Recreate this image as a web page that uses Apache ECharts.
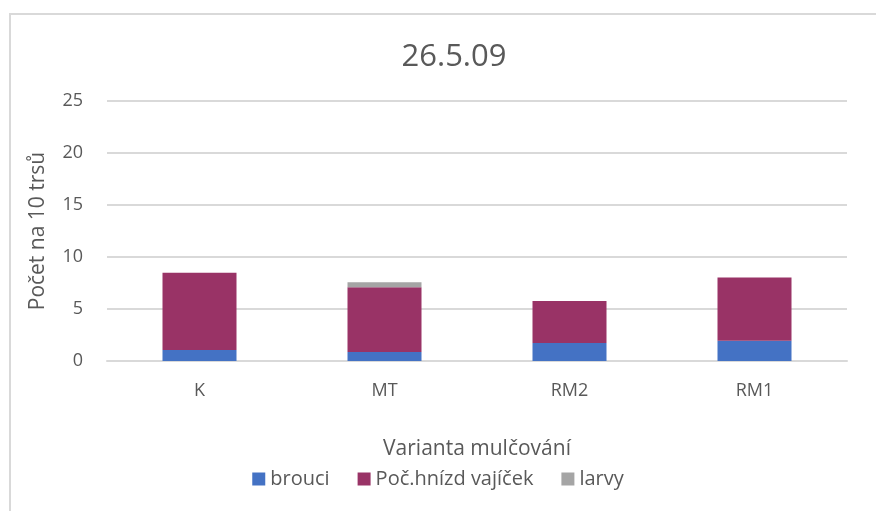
<!DOCTYPE html>
<html>
<head>
<meta charset="utf-8">
<script src="https://cdn.jsdelivr.net/npm/echarts@6/dist/echarts.min.js"></script>
<style>
	html, body { margin: 0; padding: 0; background: #fff; }
	#chart { width: 876px; height: 511px; }
</style>
</head>
<body>
<div id="chart"></div>
<script>
// kategorie a hodnoty
var categories = ['K', 'MT', 'RM2', 'RM1'];
var brouci = [1.06, 0.87, 1.74, 1.94];
var vajicka = [7.42, 6.23, 4.03, 6.09];
var larvy = [0, 0.48, 0, 0];
var yTicks = [0, 5, 10, 15, 20, 25];

var textColor = '#595959';
var font = '"Open Sans", "Noto Sans", sans-serif';

var myChart = echarts.init(document.getElementById('chart'));
var option = {
	animation : false,
	textStyle : { fontFamily : font },
	title : {
		text : '26.5.09',
		left : 449,
		top : 37,
		textAlign : 'center',
		textStyle : {
			color : textColor,
			fontSize : 31,
			fontWeight : 'normal',
			fontFamily : font
		}
	},
	graphic : [ {
		type : 'rect',
		shape : { x : 10, y : 14, width : 880, height : 520 },
		style : { fill : 'none', stroke : '#d9d9d9', lineWidth : 2 },
		silent : true
	} ],
	legend : {
		bottom : 17,
		left : 'center',
		itemWidth : 13,
		itemHeight : 13,
		itemGap : 28,
		icon : 'rect',
		textStyle : { color : textColor, fontSize : 20, fontFamily : font }
	},
	grid : {
		left : 107,
		right : 29,
		top : 101,
		bottom : 150,
		containLabel : false
	},
	xAxis : {
		type : 'category',
		data : categories,
		name : 'Varianta mulčování',
		nameLocation : 'middle',
		nameGap : 78,
		nameTextStyle : { color : textColor, fontSize : 21, fontFamily : font },
		axisLine : { lineStyle : { color : '#d9d9d9', width : 2 } },
		axisTick : { show : false },
		axisLabel : { color : textColor, fontSize : 18, margin : 21 }
	},
	yAxis : {
		type : 'value',
		min : yTicks[0],
		max : yTicks[yTicks.length - 1],
		interval : 5,
		name : 'Počet na 10 trsů',
		nameLocation : 'middle',
		nameGap : 58,
		nameTextStyle : { color : textColor, fontSize : 21, fontFamily : font },
		axisLine : { show : false },
		axisTick : { show : false },
		axisLabel : { color : textColor, fontSize : 18, margin : 24 },
		splitLine : { lineStyle : { color : '#d9d9d9', width : 2 } }
	},
	series : [ {
		name : 'brouci',
		type : 'bar',
		stack : 'a',
		barWidth : 74,
		data : brouci,
		itemStyle : { color : '#4472c4' }
	}, {
		name : 'Poč.hnízd vajíček',
		type : 'bar',
		stack : 'a',
		data : vajicka,
		itemStyle : { color : '#993366' }
	}, {
		name : 'larvy',
		type : 'bar',
		stack : 'a',
		data : larvy,
		itemStyle : { color : '#a5a5a5' }
	} ]
};
myChart.setOption(option);
</script>
</body>
</html>
